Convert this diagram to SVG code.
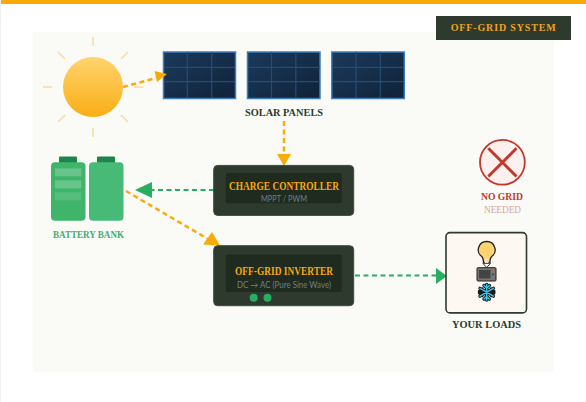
<svg xmlns="http://www.w3.org/2000/svg" width="586" height="402" viewBox="0 0 586 402">
<style>
.serif{font-family:"Liberation Serif","DejaVu Serif",serif;font-weight:700}
.sans{font-family:"Lato","Liberation Sans",sans-serif}
.ray{stroke:#fbdc98;stroke-width:1.500;fill:none}
.panel{fill:url(#pg);stroke:#3f7cbc;stroke-width:1.500}
.grid{stroke:#274b75;stroke-width:1.200;fill:none}
.box{fill:#2d3a2d;stroke:#3c4a3c;stroke-width:1}
.inner{fill:#1e2b1e}
.title{fill:#f9a80a;font-size:11.500px;text-anchor:middle}
.sub{fill:#71808a;font-size:8.500px;text-anchor:middle}
.amber{stroke:#f9ab0d;stroke-width:2.500;stroke-dasharray:5 3.500;fill:none}
.green{stroke:#27ae60;stroke-width:2;stroke-dasharray:5 3.500;fill:none}
</style>
<defs>
<linearGradient id="sg" x1="0" y1="0" x2="0" y2="1"><stop offset="0" stop-color="#ffd46f"/><stop offset="1" stop-color="#f9ae15"/></linearGradient>
<linearGradient id="pg" x1="0" y1="0" x2="1" y2="1"><stop offset="0" stop-color="#1b3a5c"/><stop offset="1" stop-color="#0f2238"/></linearGradient>
</defs>
<rect width="586" height="402" fill="#fff"/>
<rect x="0" y="0" width="1" height="402" fill="#efefef"/>
<rect x="1" y="0" width="585" height="4" fill="#f9ab05"/>
<rect x="33" y="32" width="521" height="340" fill="#fafaf6"/>
<g id="badge"><rect x="436" y="16" width="135" height="24" fill="#2d3a2d"/><text x="503.200" y="31" class="serif" font-size="10" textLength="105" lengthAdjust="spacing" fill="#f2a31c" text-anchor="middle">OFF-GRID SYSTEM</text></g>
<g id="sun">
<circle cx="93" cy="87" r="30" fill="url(#sg)"/>
<path class="ray" d="M93 37V46M93 128V137M43 87H52M134 87H143M58 52L65 59M128 52L121 59M58 122L65 115M128 122L121 115"/>
</g>
<g id="solar-panels">
<g id="panel-1"><rect class="panel" x="163.500" y="52" width="72" height="46.500"/><path class="grid" d="M187.300 52V98M211.700 52V98M164 67.300H235M164 81.700H235"/></g>
<g id="panel-2"><rect class="panel" x="247.500" y="52" width="72.500" height="46.500"/><path class="grid" d="M271.500 52V98M295.800 52V98M248 67.300H320M248 81.700H320"/></g>
<g id="panel-3"><rect class="panel" x="331.800" y="52" width="72.500" height="46.500"/><path class="grid" d="M356 52V98M380.300 52V98M332 67.300H404M332 81.700H404"/></g>
<text x="284" y="116" class="serif" font-size="10.500" textLength="78" lengthAdjust="spacingAndGlyphs" fill="#2d3a2d" text-anchor="middle">SOLAR PANELS</text>
</g>
<g id="connectors">
<path class="amber" d="M123 87L156 78"/><path d="M167 74L154.500 71L157 82Z" fill="#f9ab05"/>
<path class="amber" d="M284 121V155"/><path d="M277 154H291L284 166Z" fill="#f9ab05"/>
<path class="green" d="M214 190H150"/><path d="M135 190L152 182V198Z" fill="#27ae60"/>
<path class="amber" d="M126 191L208 239"/><path d="M220 245.500L203 244.500L212 232Z" fill="#f9ab05"/>
<path class="green" d="M355 275.500H436"/><path d="M447 276L436 268V284Z" fill="#27ae60"/>
</g>
<g id="battery-bank">
<g id="battery-1"><rect x="59" y="156.500" width="18" height="8" fill="#1e8449" rx="1"/><rect x="51" y="162.300" width="34.500" height="58.500" rx="4" fill="#3fb56c"/><rect x="55" y="168.300" width="26.300" height="8" fill="#68c48b"/><rect x="55" y="180.300" width="26.300" height="8" fill="#68c48b"/><rect x="55" y="192.300" width="26.300" height="8" fill="#55bc7c"/></g>
<g id="battery-2"><rect x="97" y="156.500" width="18" height="8" fill="#1e8449" rx="1"/><rect x="89" y="162.300" width="34.500" height="58.500" rx="4" fill="#48ba78"/></g>
<text x="88.500" y="238" class="serif" font-size="9.500" textLength="71" lengthAdjust="spacingAndGlyphs" fill="#3fae6c" text-anchor="middle">BATTERY BANK</text>
</g>
<g id="charge-controller"><rect class="box" x="213.700" y="165.400" width="140" height="50" rx="4"/><rect class="inner" x="225.700" y="173" width="116" height="30.300" rx="2"/><text x="284" y="189.500" class="serif title" textLength="110" lengthAdjust="spacingAndGlyphs">CHARGE CONTROLLER</text><text x="284" y="202" class="sans sub" textLength="46" lengthAdjust="spacingAndGlyphs">MPPT / PWM</text></g>
<g id="inverter"><rect class="box" x="213.700" y="245.700" width="140" height="60" rx="4"/><rect class="inner" x="225.700" y="254.400" width="116" height="37.700" rx="2"/><text x="284" y="274.500" class="serif title" textLength="98" lengthAdjust="spacingAndGlyphs">OFF-GRID INVERTER</text><text x="284" y="288" class="sans sub" textLength="94" lengthAdjust="spacingAndGlyphs">DC → AC (Pure Sine Wave)</text><circle cx="253.700" cy="297.700" r="4" fill="#27ae60"/><circle cx="267.500" cy="297.700" r="4" fill="#27ae60"/></g>
<g id="no-grid"><circle cx="502.400" cy="162.300" r="22.400" fill="#fdf0ee" stroke="#c0392b" stroke-width="1.800"/><path d="M488.300 148.300L516.500 176.500M516.500 148.300L488.300 176.500" stroke="#c0392b" stroke-width="3" fill="none"/><text x="502" y="200" class="serif" font-size="10" textLength="42" lengthAdjust="spacingAndGlyphs" fill="#c0392b" text-anchor="middle">NO GRID</text><text x="502.500" y="212.800" font-family="Liberation Serif,serif" font-size="10" textLength="37" lengthAdjust="spacingAndGlyphs" fill="#d6a8a4" text-anchor="middle">NEEDED</text></g>
<g id="loads"><rect x="446" y="232.600" width="80.500" height="80.300" rx="4" fill="#fdf8f2" stroke="#2d3a2d" stroke-width="1.600"/>
<path d="M486.700 241.500a8.300 8.300 0 0 1 5 15c-1.300 1.200-1.800 2.700-1.800 6.500h-6.400c0-3.800-.5-5.300-1.800-6.500a8.300 8.300 0 0 1 5-15Z" fill="#fdd36f" stroke="#222" stroke-width="1.300"/>
<path d="M485 258h3.400v5H485Z" fill="#e8e0c8"/>
<path d="M483 263.500l3.700 4 3.700-4" fill="none" stroke="#333" stroke-width="1"/>
<rect x="477" y="267.700" width="19" height="13.300" rx="1" fill="#777" stroke="#222" stroke-width="1"/><rect x="479" y="270" width="11.500" height="8.500" fill="#444"/><circle cx="493.200" cy="271" r="1" fill="#e74c3c"/><circle cx="493.200" cy="274.500" r="1" fill="#444"/>
<g fill="none" stroke-linecap="round">
<path id="flake-o" stroke="#1a1a1a" stroke-width="3.400" d="M486.700 284.500V300M480 288.400L493.400 296.100M493.400 288.400L480 296.100M484 285.500L486.700 288L489.400 285.500M484 299L486.700 296.500L489.400 299M479.500 291.500L483 292.300L482 289M493.900 291.500L490.400 292.300L491.400 289M479.500 293L483 292.300L482 295.600M493.900 293L490.400 292.300L491.400 295.600"/>
<path stroke="#37c4ea" stroke-width="1.500" d="M486.700 284.500V300M480 288.400L493.400 296.100M493.400 288.400L480 296.100M484 285.500L486.700 288L489.400 285.500M484 299L486.700 296.500L489.400 299"/>
</g>
<text x="486.500" y="328" class="serif" font-size="10.500" textLength="69" lengthAdjust="spacingAndGlyphs" fill="#2d3a2d" text-anchor="middle">YOUR LOADS</text></g>
</svg>
